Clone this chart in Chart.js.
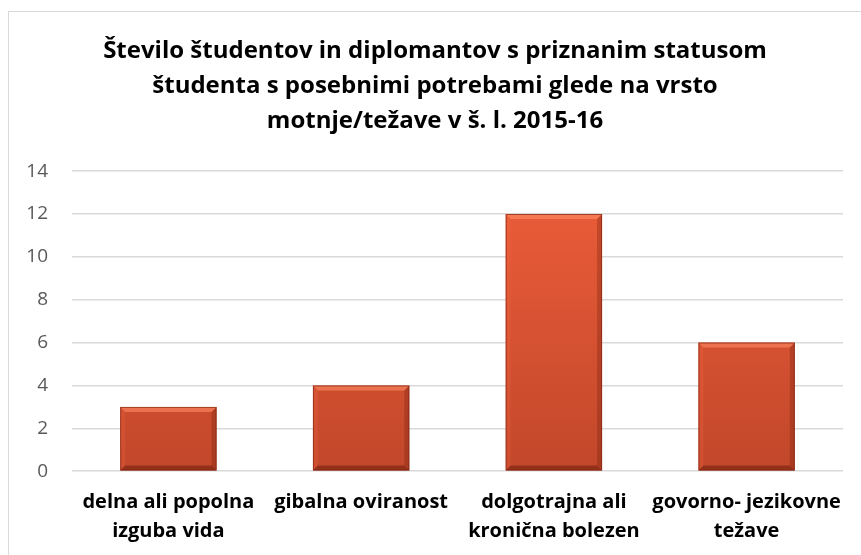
<!DOCTYPE html>
<html>
<head>
<meta charset="utf-8">
<script src="https://cdn.jsdelivr.net/npm/chart.js@4"></script>
<style>
  html, body { margin: 0; padding: 0; background: #fff; overflow: hidden; }
  #frame { position: absolute; left: 8px; top: 11px; width: 900px; height: 600px; border: 1px solid #d9d9d9; box-sizing: border-box; }
  #wrap { position: absolute; left: 0; top: 0; width: 861px; height: 555px; }
</style>
</head>
<body>
<div id="frame"></div>
<div id="wrap"><canvas id="chart" width="861" height="555"></canvas></div>
<script>
const titleLines = [
  'Število študentov in diplomantov s priznanim statusom',
  'študenta s posebnimi potrebami glede na vrsto',
  'motnje/težave v š. l. 2015-16'
];
const categories = [
  ['delna ali popolna', 'izguba vida'],
  ['gibalna oviranost'],
  ['dolgotrajna ali', 'kronična bolezen'],
  ['govorno- jezikovne', 'težave']
];
const counts = [3, 4, 12, 6];

// bevel look like the office bars
const bevel = {
  id: 'bevel',
  afterDatasetsDraw(chart) {
    const ctx = chart.ctx;
    chart.getDatasetMeta(0).data.forEach(bar => {
      const l = bar.x - bar.width / 2, r = bar.x + bar.width / 2;
      const t = bar.y, b = bar.base, s = 5;
      const poly = (pts, col) => {
        ctx.beginPath();
        ctx.moveTo(pts[0][0], pts[0][1]);
        pts.slice(1).forEach(p => ctx.lineTo(p[0], p[1]));
        ctx.closePath();
        ctx.fillStyle = col;
        ctx.fill();
      };
      ctx.save();
      poly([[l, t], [r, t], [r - s, t + s], [l + s, t + s]], 'rgba(255,140,100,0.6)');
      poly([[l, t], [l + s, t + s], [l + s, b - s], [l, b]], 'rgba(255,110,70,0.2)');
      poly([[r, t], [r, b], [r - s, b - s], [r - s, t + s]], 'rgba(110,30,10,0.3)');
      poly([[l, b], [l + s, b - s], [r - s, b - s], [r, b]], 'rgba(90,20,5,0.45)');
      ctx.strokeStyle = 'rgba(130,40,20,0.7)';
      ctx.lineWidth = 1;
      ctx.strokeRect(l + 0.5, t + 0.5, r - l - 1, b - t - 1);
      ctx.restore();
    });
  }
};

const canvas = document.getElementById('chart');
new Chart(canvas, {
  type: 'bar',
  data: {
    labels: categories,
    datasets: [{
      data: counts,
      backgroundColor(c) {
        const area = c.chart.chartArea;
        if (!area) return '#e05a38';
        const g = c.chart.ctx.createLinearGradient(0, area.top, 0, area.bottom);
        g.addColorStop(0, '#ee5e3a');
        g.addColorStop(1, '#c2472b');
        return g;
      },
      borderWidth: 0,
      barPercentage: 0.5,
      categoryPercentage: 1
    }]
  },
  options: {
    responsive: false,
    animation: false,
    layout: { padding: { left: 27, right: 18, top: 0, bottom: -7 } },
    plugins: {
      legend: { display: false },
      tooltip: { enabled: false },
      title: {
        display: true,
        text: titleLines,
        color: '#000',
        font: { family: 'Open Sans', size: 24, weight: 'bold', lineHeight: 1.46 },
        padding: { top: 34, bottom: 32 }
      }
    },
    scales: {
      x: {
        grid: { display: false, drawTicks: false },
        border: { display: false },
        ticks: {
          color: '#000',
          font: { family: 'Open Sans', size: 20, weight: 'bold', lineHeight: 1.42 },
          padding: 17,
          maxRotation: 0,
          autoSkip: false
        }
      },
      y: {
        min: 0,
        max: 14,
        afterFit(scale) { scale.width = 45; },
        grid: { color: '#d9d9d9', lineWidth: 1.5, drawTicks: false },
        border: { display: false },
        ticks: {
          stepSize: 2,
          color: '#595959',
          font: { family: 'Open Sans', size: 19 },
          padding: 24
        }
      }
    }
  },
  plugins: [bevel]
});
</script>
</body>
</html>
